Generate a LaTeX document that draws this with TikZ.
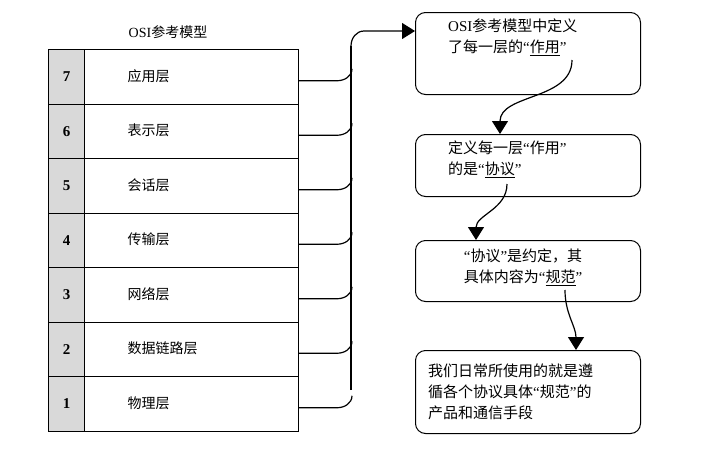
\documentclass[tikz,border=0pt]{standalone}
\usepackage{fontspec}
\setmainfont{Liberation Serif}
\newfontfamily\cjk{Noto Sans CJK SC}
\newfontfamily\latn{Liberation Serif}
\newcommand\oq{{\latn “}}
\newcommand\cq{{\latn ”}}
\usetikzlibrary{arrows.meta}
\begin{document}
\begin{tikzpicture}[x=1pt, y=-1pt, line join=miter,
    layer/.style={draw, line width=1pt, minimum width=214pt, minimum height=54.5pt, anchor=north west, inner sep=0pt},
    num/.style={draw, line width=1pt, fill=gray!30, minimum width=36pt, minimum height=54.5pt, anchor=north west, font=\fontsize{15}{15}\selectfont\bfseries},
    lname/.style={anchor=west, font=\cjk\fontsize{14}{14}\selectfont},
    box/.style={draw, line width=1pt, rounded corners=10pt, minimum width=225pt, anchor=north west},
    btext/.style={anchor=north west, align=left, font=\cjk\fontsize{15}{21}\selectfont, inner sep=0pt},
    conn/.style={line width=1.2pt},
    flow/.style={line width=1.2pt, -{Triangle[length=13pt, width=16pt]}}]
  \useasboundingbox (0,0) rectangle (712,453);
  \node[font=\cjk\fontsize{14}{14}\selectfont] (title) at (168,32) {{\latn OSI}参考模型};
  % layers 7 .. 1
  \foreach \n/\t [count=\i from 0] in {7/应用层,6/表示层,5/会话层,4/传输层,3/网络层,2/数据链路层,1/物理层} {
    \node[num] (n\n) at (48,49+54.5*\i) {\n};
    \node[layer] (r\n) at (84,49+54.5*\i) {};
    \node[lname] (l\n) at (124,76+54.5*\i) {\t};
  }
  % right boxes
  \node[box, minimum height=82pt] (b1) at (415,12) {};
  \node[btext] (t1) at (448,19) {{\latn OSI}参考模型中定义\\了每一层的\oq\underline{作用}\cq};
  \node[box, minimum height=62pt] (b2) at (415,134) {};
  \node[btext] (t2) at (448,141) {定义每一层\oq 作用\cq\\的是\oq\underline{协议}\cq};
  \node[box, minimum height=61pt] (b3) at (415,240) {};
  \node[btext, align=center, anchor=north] (t3) at (523,249) {\oq 协议\cq 是约定，其\\具体内容为\oq\underline{规范}\cq};
  \node[box, minimum height=83pt] (b4) at (415,350) {};
  \node[btext] (t4) at (428,364) {我们日常所使用的就是遵\\循各个协议具体\oq 规范\cq 的\\产品和通信手段};
  % bracket
  \coordinate (top) at (351,46);
  \coordinate (bot) at (351,390);
  \foreach \n in {7,6,5,4,3,2,1}
    \draw[conn] ([yshift=-4pt]r\n.east) -- ++(38,0) to[out=0, in=-90] ++(15,-12);
  \draw[conn] (bot) -- (top);
  \draw[flow] (top) to[out=90, in=180] (364,31) -- (b1.west |- 0,31);
  % flow between boxes
  \coordinate (s1) at (572,60);
  \coordinate (s2) at (507,184);
  \coordinate (s3) at (565,290);
  \draw[flow] (s1) to[out=-90, in=90] (b2.north -| 500,0);
  \draw[flow] (s2) to[out=-90, in=90] (b3.north -| 476,0);
  \draw[flow] (s3) to[out=-90, in=90] (b4.north -| 576,0);
\end{tikzpicture}
\end{document}
